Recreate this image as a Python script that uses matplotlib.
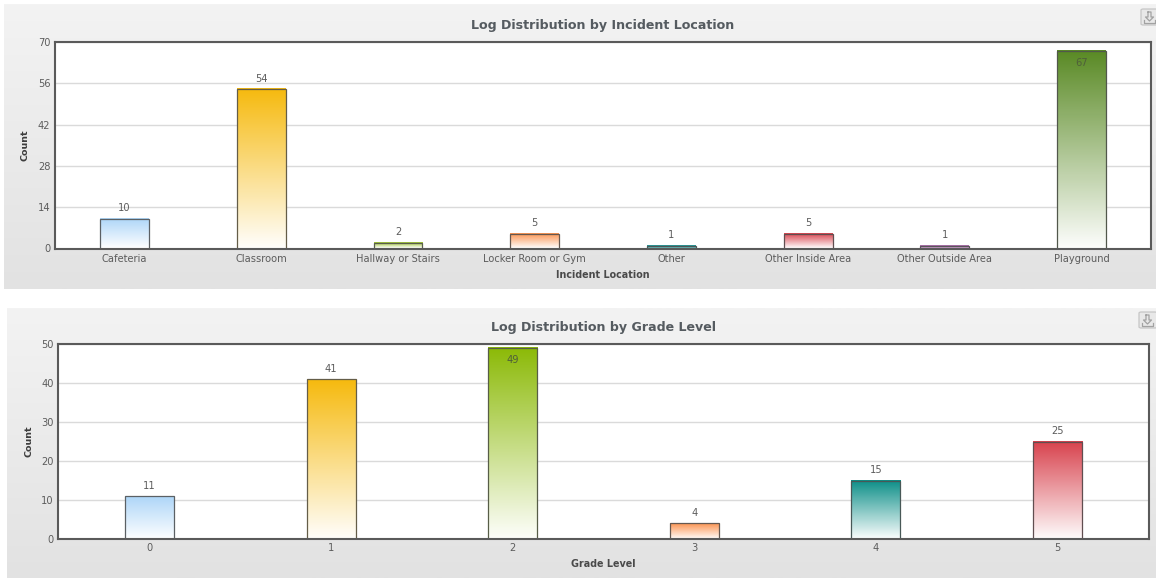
import numpy as np
import matplotlib
matplotlib.use('Agg')
import matplotlib.pyplot as plt
from matplotlib.colors import LinearSegmentedColormap, to_rgb
from matplotlib.lines import Line2D
from matplotlib.patches import FancyBboxPatch

plt.rcParams['font.family'] = ['DejaVu Sans']

W, H = 1156, 578

# top chart
location_names = ['Cafeteria', 'Classroom', 'Hallway or Stairs', 'Locker Room or Gym',
                  'Other', 'Other Inside Area', 'Other Outside Area', 'Playground']
location_counts = [10, 54, 2, 5, 1, 5, 1, 67]
location_colors = ['#aed6f8', '#f6ba0f', '#9cc22c', '#fb9350',
                   '#1a9090', '#d8434e', '#a868a8', '#5a8a25']
location_ticks = [0, 14, 28, 42, 56, 70]

# bottom chart
grade_names = ['0', '1', '2', '3', '4', '5']
grade_counts = [11, 41, 49, 4, 15, 25]
grade_colors = ['#aed6f8', '#f6ba0f', '#8cba08', '#fb9350', '#0d8f88', '#d8434e']
grade_ticks = [0, 10, 20, 30, 40, 50]

TEXT = '#5c5c5c'


def pixel_axes(fig, x0, y0, x1, y1, **kw):
    # axes placed from pixel edges, y measured from the top
    return fig.add_axes([x0 / W, 1 - y1 / H, (x1 - x0) / W, (y1 - y0) / H], **kw)


def edge_color(color):
    # bar outline: dark grey with a faint tint of the fill
    return tuple(0.12 * c + 0.88 * g for c, g in zip(to_rgb(color), to_rgb('#505050')))


def draw_button(fig, bx, by):
    # export button: rounded box, down arrow and tray
    fig.add_artist(FancyBboxPatch((bx / W, 1 - (by + 16) / H), 18 / W, 16 / H,
                                  boxstyle='round,pad=0,rounding_size=0.002',
                                  transform=fig.transFigure, facecolor='#e8e8e8',
                                  edgecolor='#c6c6c6', linewidth=0.9, zorder=6))
    shapes = [
        ([bx + 7, bx + 7, bx + 4.5, bx + 8.5, bx + 12.5, bx + 10, bx + 10, bx + 7],
         [by + 3, by + 8, by + 8, by + 12, by + 8, by + 8, by + 3, by + 3]),
        ([bx + 3, bx + 3, bx + 14, bx + 14], [by + 10.5, by + 13.5, by + 13.5, by + 10.5]),
    ]
    for xs, ys in shapes:
        fig.add_artist(Line2D([x / W for x in xs], [1 - y / H for y in ys],
                              transform=fig.transFigure, color='#a2a2a2',
                              linewidth=0.9, zorder=7))


def draw_panel(fig, box, plot, title, title_y, names, counts, colors, ticks, xlabel,
               xlabel_y, bar_width, count_x, button, x_margins, x_pad):
    # grey gradient backdrop
    bg = pixel_axes(fig, *box, zorder=0)
    bg.imshow(np.linspace(0, 1, 256).reshape(-1, 1), aspect='auto',
              cmap=LinearSegmentedColormap.from_list('bg', ['#f3f3f3', '#e2e2e2']))
    bg.axis('off')

    ax = pixel_axes(fig, *plot, zorder=1)
    ax.set_axisbelow(True)
    ax.yaxis.grid(True, color='#dadada', linewidth=1.0)
    ax.set_yticks(ticks)
    ax.set_xticks(range(len(names)))
    ax.set_xticklabels(names)
    ax.tick_params(axis='both', length=0, labelsize=7.1, labelcolor=TEXT)
    ax.tick_params(axis='x', pad=x_pad)
    ax.tick_params(axis='y', pad=3)

    bars = ax.bar(range(len(names)), counts, width=bar_width, facecolor='none',
                  linewidth=0.9, zorder=3)
    for i, (rect, color) in enumerate(zip(bars, colors)):
        rect.set_edgecolor(edge_color(color))
        x = rect.get_x()
        value = counts[i]
        frac = value / ticks[-1]
        # the shortest bars never get as far as white
        low = 0.6 if frac < 0.02 else 0.02
        cmap = LinearSegmentedColormap.from_list('bar', ['#ffffff', color])
        ax.imshow(np.linspace(1, low, 128).reshape(-1, 1), cmap=cmap, vmin=0, vmax=1,
                  extent=(x, x + rect.get_width(), 0, rect.get_height()),
                  aspect='auto', zorder=2)
        # tall bars carry the label inside, the rest above
        if frac > 0.9:
            ax.annotate(str(value), (i, value), xytext=(0, -5), textcoords='offset points',
                        ha='center', va='top', fontsize=7.1, color='#4f5f3a', zorder=4)
        else:
            ax.annotate(str(value), (i, value), xytext=(0, 4), textcoords='offset points',
                        ha='center', va='bottom', fontsize=7.1, color=TEXT, zorder=4)
    ax.set_xlim(-x_margins[0], len(names) - 1 + x_margins[1])
    ax.set_ylim(0, ticks[-1])

    for spine in ax.spines.values():
        spine.set_color('#5a5a5a')
        spine.set_linewidth(1.5)
        spine.set_zorder(5)

    center = (plot[0] + plot[2]) / 2 / W
    fig.text(center, 1 - title_y / H, title, ha='center', va='center',
             fontsize=9.1, fontweight='bold', color='#555b60', zorder=6)
    fig.text(center, 1 - xlabel_y / H, xlabel, ha='center', va='center',
             fontsize=6.9, fontweight='bold', color='#4a4a4a', zorder=6)
    fig.text(count_x / W, 1 - ((plot[1] + plot[3]) / 2) / H, 'Count', rotation=90,
             ha='center', va='center', fontsize=6.8, fontweight='bold', color='#3c3c3c', zorder=6)

    draw_button(fig, *button)


fig = plt.figure(figsize=(W / 100, H / 100), dpi=100, facecolor='white')

draw_panel(fig, (4, 4, 1156, 289), (54.5, 42, 1151, 248.5),
           'Log Distribution by Incident Location', 26,
           location_names, location_counts, location_colors, location_ticks,
           'Incident Location', 275, 0.357, 25.5, (1141, 9), (0.512, 0.508), 4)

draw_panel(fig, (7, 308, 1156, 578), (58, 344, 1149, 539),
           'Log Distribution by Grade Level', 328,
           grade_names, grade_counts, grade_colors, grade_ticks,
           'Grade Level', 564, 0.27, 28.5, (1139, 312), (0.504, 0.504), 3)

fig.savefig('out.png', dpi=100)
